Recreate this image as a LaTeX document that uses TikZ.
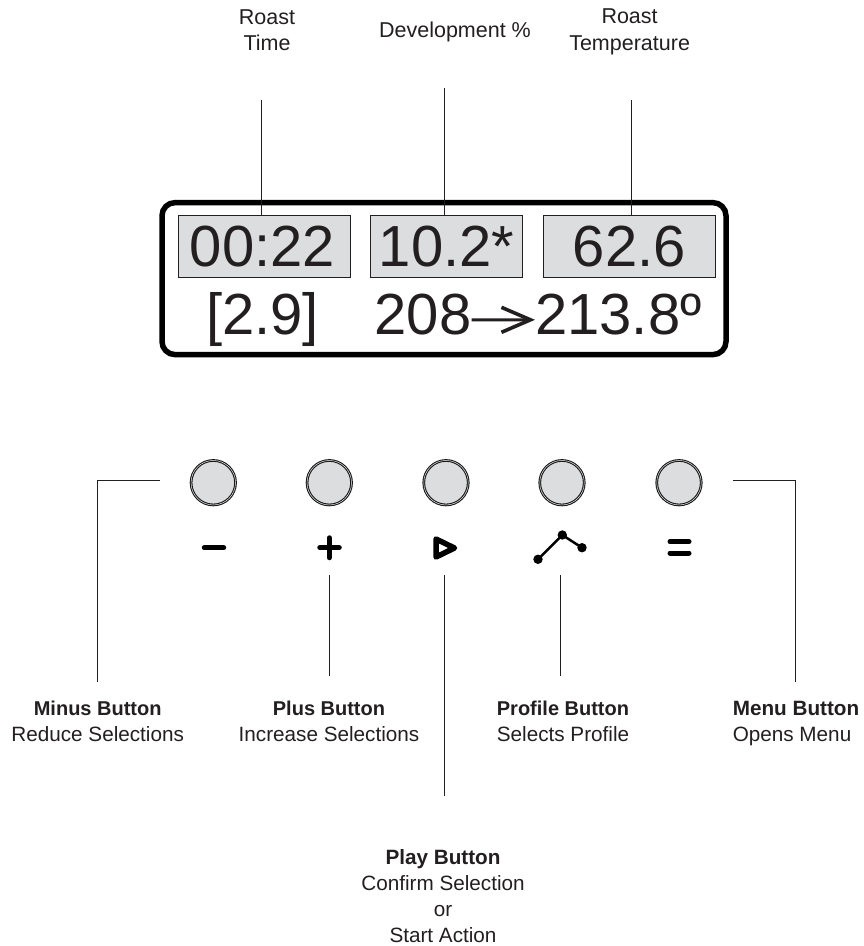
\documentclass[tikz,border=0pt]{standalone}
\usepackage{fontspec}
\setmainfont{Liberation Sans}
\usetikzlibrary{arrows.meta,positioning}
\definecolor{panelgray}{HTML}{DCDDDE}
\definecolor{inkgray}{HTML}{231F20}
\newcommand{\btnhead}[1]{{\fontsize{20}{26}\selectfont\bfseries #1}}

\begin{document}
\begin{tikzpicture}[
  x=1pt, y=-1pt,
  font=\fontsize{20.7}{26}\selectfont,
  text=inkgray,
  caption/.style={align=center, inner sep=0pt},
  toplabel/.style={caption, font=\fontsize{21.5}{26.5}\selectfont},
  readout/.style={draw=inkgray, line width=1pt, fill=panelgray, minimum height=62pt, inner sep=0pt},
  digits/.style={font=\fontsize{58}{60}\selectfont, inner sep=0pt},
  knob/.style={circle, draw=black!90, double=panelgray!60, line width=1.1pt, double distance=0.5pt, fill=panelgray, minimum size=44.5pt, inner sep=0pt},
  lead/.style={draw=inkgray, line width=1pt},
  glyph/.style={draw=black, line width=5.5pt, line cap=round, line join=round}
]
\useasboundingbox (0,0) rectangle (864,946);

\node[draw=black, line width=5.5pt, rounded corners=13pt, minimum width=564pt, minimum height=152pt] (panel) at (444,278.6) {};

\node[readout, minimum width=171.7pt] (time) at (264.2,246.3) {};
\node[readout, minimum width=151.6pt] (dev) at (446.5,246.3) {};
\node[readout, minimum width=171.7pt] (temp) at (629.2,246.3) {};
\node[digits, anchor=base] (timeval) at (262.5,266) {00:22};
\node[digits, anchor=base] (devval) at (446.5,266) {10.2*};
\node[digits, anchor=base] (tempval) at (629.2,266) {62.6};
\node[digits, anchor=base] (rate) at (262.5,334.3) {[2.9]};
\node[digits, anchor=base west] (tempfrom) at (374.5,334.3) {208};
\node[digits, anchor=base west] (tempto) at (535,334.3) {213.8º};
\draw[draw=inkgray, line width=3pt, -{Straight Barb[length=29pt,width=25pt,line width=3.6pt]}] ([yshift=-5.5pt]tempfrom.east) -- ([yshift=-5.5pt]tempto.west);

\node[toplabel] (timelab) at (267,30) {Roast\\Time};
\node[toplabel, anchor=base] (devlab) at (455,37.5) {Development \%};
\node[toplabel] (templab) at (629.6,32) {Roast\\Temperature};
\coordinate (timetop) at (261.7,100);
\coordinate (devtop) at (444,88);
\coordinate (temptop) at (631,100);
\draw[lead] (timetop) -- (time.north -| timetop);
\draw[lead] (devtop) -- (dev.north -| devtop);
\draw[lead] (temptop) -- (temp.north -| temptop);

\node[knob] (minus) at (213.3,482.7) {};
\node[knob] (plus) at (329.3,482.7) {};
\node[knob] (play) at (446,482.7) {};
\node[knob] (profile) at (562,482.7) {};
\node[knob] (menu) at (679,482.7) {};

\draw[glyph] (204.5,547.7) -- (223.5,547.7);
\draw[glyph] (320,547.7) -- (339,547.7) (329.3,538) -- (329.3,557.5);
\draw[glyph] (436,539) -- (454.5,548) -- (436,557) -- cycle;
\draw[draw=black, line width=2.5pt] (538,559.3) -- (562.3,535) -- (582,547.7);
\fill (538,559.3) circle (4.7pt) (562.3,535) circle (4.7pt) (582,547.7) circle (4.7pt);
\draw[glyph, line width=5pt] (670,541.7) -- (689,541.7) (670,553) -- (689,553);

\node[caption] (minuslab) at (97.7,721) {\btnhead{Minus Button}\\Reduce Selections};
\node[caption] (pluslab) at (329,721) {\btnhead{Plus Button}\\Increase Selections};
\node[caption] (playlab) at (443,896) {\textbf{Play Button}\\Confirm Selection\\or\\Start Action};
\node[caption] (profilelab) at (563,721) {\btnhead{Profile Button}\\Selects Profile};
\node[caption, align=left] (menulab) at (796,724) {\textbf{Menu Button}\\Opens Menu};

\coordinate (minusend) at (160,480.5);
\coordinate (minuscorner) at (97.7,480.5);
\coordinate (minusfoot) at (97.7,681.7);
\coordinate (menuend) at (733,480.5);
\coordinate (menucorner) at (795.3,480.5);
\coordinate (menufoot) at (795.3,681.7);
\coordinate (plusa) at (329.7,575);
\coordinate (plusb) at (329.7,676);
\coordinate (playa) at (444.7,575);
\coordinate (playb) at (444.7,795.7);
\coordinate (profa) at (560.3,575);
\coordinate (profb) at (560.3,676);
\draw[lead] (minusend) -- (minuscorner) -- (minusfoot);
\draw[lead] (menuend) -- (menucorner) -- (menufoot);
\draw[lead] (plusa) -- (plusb);
\draw[lead] (playa) -- (playb);
\draw[lead] (profa) -- (profb);
\end{tikzpicture}
\end{document}
